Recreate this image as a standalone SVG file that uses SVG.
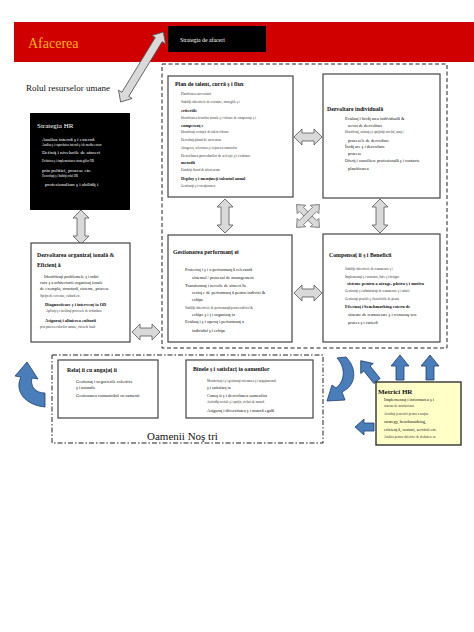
<svg xmlns="http://www.w3.org/2000/svg" width="474" height="632" viewBox="0 0 474 632">
<defs>
<style>
text{font-family:"Liberation Serif","Times New Roman",serif;fill:#111}
.T{font-size:5.8px;font-weight:bold}
.m{font-size:4.4px}
.s{font-size:3.2px;fill:#333}
.w{fill:#fff}
.box{fill:#fff;stroke:#444;stroke-width:1.2}
.ga{fill:#d9d9d9;stroke:#555;stroke-width:0.8}
.ba{fill:#4a7ebb;stroke:#1f3d6e;stroke-width:0.8}
</style>
<path id="dh28" d="M-14,0 L-6,-8 L-6,-4 L6,-4 L6,-8 L14,0 L6,8 L6,4 L-6,4 L-6,8 Z"/>
<path id="dh34" d="M-17,0 L-9,-8 L-9,-4 L9,-4 L9,-8 L17,0 L9,8 L9,4 L-9,4 L-9,8 Z"/>
</defs>
<rect width="474" height="632" fill="#fff"/>

<g id="banner">
<rect x="14" y="22" width="460" height="40" fill="#d00000"/>
<text x="28" y="48" style="font-size:14px;fill:#ffb020">Afacerea</text>
</g>
<g id="strategia-afaceri">
<rect x="168" y="26" width="98" height="26" fill="#000"/>
<text x="180" y="42" class="w" style="font-size:5.8px">Strategia de afaceri</text>
</g>
<text x="26" y="91" style="font-size:9px">Rolul resurselor umane</text>

<g id="hr-domain">
<rect x="162" y="64" width="285" height="284" fill="none" stroke="#222" stroke-width="1" stroke-dasharray="4 2.5"/>
</g>

<g id="connectors">
<use href="#dh28" class="ga" transform="translate(308,137)"/>
<use href="#dh28" class="ga" transform="translate(308,293)"/>
<use href="#dh28" class="ga" transform="translate(146,332)"/>
<use href="#dh34" class="ga" transform="translate(225,216) rotate(90)"/>
<use href="#dh34" class="ga" transform="translate(380,216) rotate(90)"/>
<use href="#dh34" class="ga" transform="translate(81,227) rotate(90)"/>
<path class="ga" transform="translate(142,67) rotate(-58.6)" d="M-41,0 L-32,-8 L-32,-4 L32,-4 L32,-8 L41,0 L32,8 L32,4 L-32,4 L-32,8 Z"/>
<g transform="translate(308,216)">
<path class="ga" transform="rotate(45) scale(0.85)" d="M-19,0 L-11,-7 L-11,-3.5 L11,-3.5 L11,-7 L19,0 L11,7 L11,3.5 L-11,3.5 L-11,7 Z"/>
<path class="ga" transform="rotate(-45) scale(0.85)" d="M-19,0 L-11,-7 L-11,-3.5 L11,-3.5 L11,-7 L19,0 L11,7 L11,3.5 L-11,3.5 L-11,7 Z"/>
</g>
<path class="ba" d="M45,407 C25,405 14,391 21,377 L15,376 L27,362 L38,379 L32,378 C30,386 35,393 45,393 Z"/>
<path class="ba" d="M346,357 C357,368 357,385 342,392 L345,400 L327,401 L332,385 L336,388 C345,381 346,368 337,358 Z"/>
<path class="ba" transform="translate(377,381) rotate(-128.7)" d="M26,0 L16,-8 L16,-4 L0,-4 L0,4 L16,4 L16,8 Z"/>
<path class="ba" d="M400,355 L409,366 L404,366 L404,380 L396,380 L396,366 L391,366 Z"/>
<path class="ba" d="M430,355 L439,366 L434,366 L434,380 L426,380 L426,366 L421,366 Z"/>
<path class="ba" d="M355,427 L364,419 L364,423 L374,423 L374,431 L364,431 L364,435 Z"/>
</g>

<g id="strategia-hr">
<rect x="30" y="113" width="100" height="97" fill="#000"/>
<text x="37" y="128" class="w" style="font-size:7px">Strategia HR</text>
<text x="42" y="141" class="w" style="font-size:5px">Analiza internă ş i externă</text>
<text x="42" y="146" class="w" style="font-size:3px">Analiza ş i capacitatea internă ş i de mediu extern</text>
<text x="42" y="154" class="w" style="font-size:5px">Definiţ i nivelurile de afaceri</text>
<text x="42" y="162" class="w" style="font-size:3px">Definirea ş i implementarea strategiilor HR</text>
<text x="42" y="172" class="w" style="font-size:5px">prin politici, procese etc.</text>
<text x="42" y="177" class="w" style="font-size:3px">Dezvoltaţi ş i întăriţi rolul HR</text>
<text x="45" y="186" class="w" style="font-size:5px">profesionalism ş i abilităţ i</text>
</g>

<g id="plan-talent">
<rect x="168" y="76" width="125" height="121" class="box"/>
<text x="175" y="86" class="T">Plan de talent, curră ş i flux</text>
<text x="181" y="95" class="s">Planificarea succesiunii</text>
<text x="181" y="103" class="s">Stabiliţi obiectivele de recrutare, strategiile ş i</text>
<text x="181" y="112" class="m" font-weight="bold">criteriile</text>
<text x="181" y="119" class="s">Identificarea locurilor actuale ş i viitoare de competenţe ş i</text>
<text x="181" y="127" class="m" font-weight="bold">competenţ e</text>
<text x="181" y="133" class="s">Identificaţi cerinţele de talent viitoare</text>
<text x="181" y="141" class="s">Dezvoltaţi planul de succesiune</text>
<text x="181" y="149" class="s">Atragerea, selectarea ş i reţinerea oamenilor</text>
<text x="181" y="157" class="s" style="font-size:3.6px">Dezvoltarea procedurilor de selecţie ş i evaluare</text>
<text x="181" y="164" class="m" font-weight="bold">metodă</text>
<text x="181" y="171" class="s">Urmăriţi fluxul de talent acum</text>
<text x="181" y="180" class="m" font-weight="bold">Deploy ş i menţineţi talentul anual</text>
<text x="181" y="187" class="s">Gestionaţi ş i retenţionarea</text>
</g>

<g id="dezvoltare-individuala">
<rect x="323" y="74" width="117" height="124" class="box"/>
<text x="327" y="111" class="T">Dezvoltare individuală</text>
<text x="345" y="120" class="m">Evaluaţ i învăţ area individuală &amp;</text>
<text x="348" y="127" class="m">nevoi de dezvoltare</text>
<text x="345" y="133" class="s">Identificaţi, asistaţi ş i sprijiniţi nivelul, anaş i</text>
<text x="348" y="142" class="m">procesele de dezvoltare</text>
<text x="345" y="148" class="m">Învăţ are ş i dezvoltare</text>
<text x="348" y="155" class="m">procese</text>
<text x="345" y="162" class="m">Oferiţ i consiliere profesională ş i contacte</text>
<text x="348" y="170" class="m">planificarea</text>
</g>

<g id="dezvoltare-organizationala">
<rect x="31" y="243" width="99" height="99" class="box"/>
<text x="37" y="257" class="T">Dezvoltarea organizaţ ională &amp;</text>
<text x="37" y="267" class="T">Eficienţ ă</text>
<text x="44" y="278" class="m">Identificaţi problemele ş i mări</text>
<text x="40" y="284" class="m">curs ş a arhitecturii organizaţ ionale</text>
<text x="40" y="290" class="m">de exemplu, structură, sisteme, procese</text>
<text x="40" y="297" class="s">Sprijin de cercetare, cultură etc.</text>
<text x="45" y="306" class="m" font-weight="bold">Diagnosticare ş i intervenţ ia OD</text>
<text x="46" y="312" class="s">Aplicaţi ş i facilitaţi procesele de schimbare</text>
<text x="45" y="322" class="m" font-weight="bold">Asiguraţ i alinierea culturii</text>
<text x="40" y="328" class="s">prin puterea valorilor umane, cheia de bază</text>
</g>

<g id="gestionarea-performantei">
<rect x="168" y="235" width="124" height="107" class="box"/>
<text x="173" y="254" class="T">Gestionarea performanţ ei</text>
<text x="185" y="271" class="m">Proiectaţ i ş i o performanţ ă relevantă</text>
<text x="192" y="279" class="m">sistemul / procesul de management</text>
<text x="185" y="287" class="m">Transformaţ i nevoile de afaceri în</text>
<text x="192" y="294" class="m">cerinţ e de performanţ ă pentru indivizi &amp;</text>
<text x="192" y="301" class="m">echipe</text>
<text x="185" y="309" class="s">Stabiliţi obiectivele de performanţă pentru indivizi &amp;</text>
<text x="192" y="316" class="m">echipe ş i ţ i organizaţ ia</text>
<text x="185" y="323" class="m">Evaluaţ i ş i operaţ i performanţ a</text>
<text x="192" y="332" class="m">individul ş i echipe</text>
</g>

<g id="compensatii-beneficii">
<rect x="323" y="234" width="117" height="108" class="box"/>
<text x="329" y="257" class="T">Compensaţ ii ş i Beneficii</text>
<text x="345" y="270" class="s">Stabiliţi obiectivele de remunerare ş i</text>
<text x="345" y="278" class="s">Implementaţi ş i structura, între ş i desigur</text>
<text x="347" y="285" class="m" font-weight="bold">sisteme pentru a atrage, păstra ş i motiva</text>
<text x="345" y="292" class="s">Gestionaţi ş i administraţi de remunerare ş i salarii</text>
<text x="345" y="300" class="s">Gestionaţi pensiile ş i beneficiile de pensie</text>
<text x="345" y="308" class="m" font-weight="bold">Efectuaţ i benchmarking extern de</text>
<text x="348" y="316" class="m">sisteme de remunerare ş i recunoaş tere</text>
<text x="348" y="324" class="m">proces ş i carieră</text>
</g>

<g id="oamenii-nostri">
<rect x="52" y="355" width="271" height="88" fill="none" stroke="#222" stroke-width="1" stroke-dasharray="5 2 1.5 2"/>
<text x="147" y="440" style="font-size:11px">Oamenii Noş tri</text>
</g>

<g id="relatii-angajati">
<rect x="58" y="360" width="100" height="58" class="box"/>
<text x="67" y="372" class="T">Relaţ ii cu angajaţ ii</text>
<text x="76" y="383" class="m">Gestionaţ i negocierile colective</text>
<text x="76" y="389" class="m">ş i uniunile</text>
<text x="76" y="397" class="m">Gestionarea comunicării cu oamenii</text>
</g>

<g id="binele-satisfactia">
<rect x="186" y="360" width="127" height="58" class="box"/>
<text x="193" y="371" class="T">Binele ş i satisfacţ ia oamenilor</text>
<text x="207" y="382" class="s">Monitorizaţ i ş i gestionaţi orientarea ş i angajamentul</text>
<text x="207" y="389" class="m">ş i satisfacţ ia</text>
<text x="207" y="397" class="m">Cunoş ti ş i dezvoltarea oamenilor</text>
<text x="207" y="403" class="s">Activităţi sociale ş i sprijin, cicluri de muncă</text>
<text x="207" y="412" class="m">Asiguraţ i diversitatea ş i muncă egală</text>
</g>

<g id="metrici-hr">
<rect x="376" y="382" width="85" height="63" fill="#ffffc8" stroke="#333" stroke-width="1.4"/>
<text x="378" y="394" style="font-size:7px;font-weight:bold">Metrici HR</text>
<text x="384" y="401" class="m">Implementaţ i informarea ş i</text>
<text x="384" y="407" class="s">sisteme de monitorizare</text>
<text x="384" y="415" class="s">Acordaţi şi metrici pentru a susţine</text>
<text x="384" y="423" class="m">strategy, benchmarking,</text>
<text x="384" y="431" class="m">eficienţ ă, costuri, servicii etc.</text>
<text x="384" y="438" class="s">Analiza pentru obiective de dezbatere as</text>
</g>
</svg>
